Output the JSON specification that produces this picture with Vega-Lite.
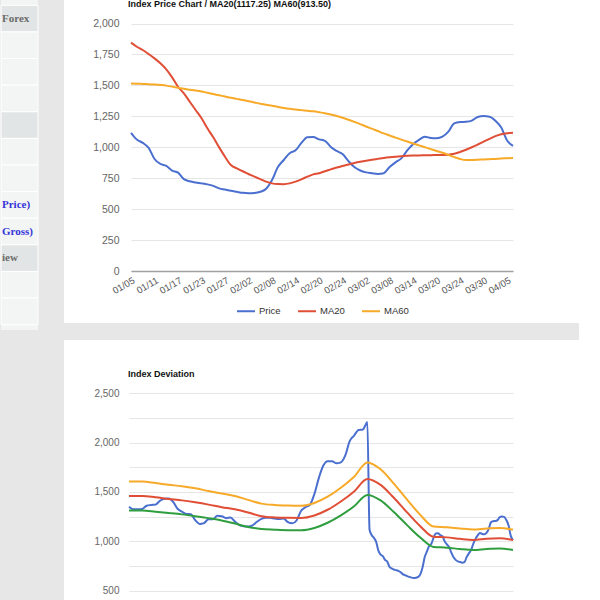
{
  "$schema": "https://vega.github.io/schema/vega-lite/v6.json",
  "background": "#e7e7e7",
  "padding": 0,
  "spacing": 25,
  "config": {"view": {"stroke": null}, "font": "Liberation Sans"},
  "hconcat": [
    {
      "width": 37,
      "height": 330,
      "view": {"fill": "#f3f4f4", "stroke": null},
      "data": {"values": [
        {"row": 0, "label": "Forex", "kind": "head"},
        {"row": 1, "label": "", "kind": "item"},
        {"row": 2, "label": "", "kind": "item"},
        {"row": 3, "label": "", "kind": "item"},
        {"row": 4, "label": "", "kind": "head"},
        {"row": 5, "label": "", "kind": "item"},
        {"row": 6, "label": "", "kind": "item"},
        {"row": 7, "label": "Price)", "kind": "link"},
        {"row": 8, "label": "Gross)", "kind": "link"},
        {"row": 9, "label": "iew", "kind": "head"},
        {"row": 10, "label": "", "kind": "item"},
        {"row": 11, "label": "", "kind": "item"}
      ]},
      "encoding": {"y": {"field": "row", "type": "ordinal", "axis": null, "scale": {"paddingInner": 0, "paddingOuter": 0.2}}},
      "layer": [
        {"mark": {"type": "rect", "stroke": "#ffffff", "strokeWidth": 1},
         "encoding": {"fill": {"field": "kind", "type": "nominal", "scale": {"domain": ["head", "item", "link"], "range": ["#e2e5e5", "#f3f4f4", "#f3f4f4"]}, "legend": null}}},
        {"mark": {"type": "text", "align": "left", "dx": 1, "font": "Liberation Serif", "fontWeight": "bold", "fontSize": 11, "clip": true},
         "encoding": {
           "x": {"datum": 0, "type": "quantitative", "scale": {"domain": [0, 1]}, "axis": null},
           "text": {"field": "label"},
           "color": {"field": "kind", "type": "nominal", "scale": {"domain": ["head", "item", "link"], "range": ["#6b6b6b", "#6b6b6b", "#3434d8"]}, "legend": null}
         }}
      ]
    },
    {
      "spacing": 17,
      "resolve": {"scale": {"color": "independent", "x": "independent", "y": "independent"}, "legend": {"color": "independent"}},
      "vconcat": [
        {
          "width": 515,
          "height": 323,
          "view": {"fill": "#ffffff", "stroke": null},
          "title": {"text": "Index Price Chart / MA20(1117.25) MA60(913.50)", "anchor": "start", "frame": "group", "orient": "top", "offset": -16, "baseline": "alphabetic", "dx": 64, "fontSize": 9, "fontWeight": "bold", "color": "#111111", "font": "Liberation Sans"},
          "data": {"values": [
            {"date": "01/05", "Price": 1117, "MA20": 1845, "MA60": 1515},
            {"date": "01/06", "Price": 1062, "MA20": 1812, "MA60": 1514},
            {"date": "01/09", "Price": 1035, "MA20": 1786, "MA60": 1512},
            {"date": "01/10", "Price": 995, "MA20": 1753, "MA60": 1510},
            {"date": "01/11", "Price": 905, "MA20": 1718, "MA60": 1507},
            {"date": "01/12", "Price": 865, "MA20": 1678, "MA60": 1503},
            {"date": "01/13", "Price": 850, "MA20": 1630, "MA60": 1498},
            {"date": "01/16", "Price": 812, "MA20": 1565, "MA60": 1490},
            {"date": "01/17", "Price": 795, "MA20": 1489, "MA60": 1480},
            {"date": "01/18", "Price": 742, "MA20": 1435, "MA60": 1472},
            {"date": "01/19", "Price": 725, "MA20": 1368, "MA60": 1465},
            {"date": "01/20", "Price": 715, "MA20": 1301, "MA60": 1458},
            {"date": "01/23", "Price": 708, "MA20": 1234, "MA60": 1450},
            {"date": "01/24", "Price": 700, "MA20": 1153, "MA60": 1440},
            {"date": "01/25", "Price": 688, "MA20": 1080, "MA60": 1430},
            {"date": "01/26", "Price": 668, "MA20": 999, "MA60": 1420},
            {"date": "01/27", "Price": 658, "MA20": 923, "MA60": 1410},
            {"date": "01/30", "Price": 648, "MA20": 856, "MA60": 1400},
            {"date": "01/31", "Price": 640, "MA20": 830, "MA60": 1391},
            {"date": "02/01", "Price": 632, "MA20": 806, "MA60": 1382},
            {"date": "02/02", "Price": 628, "MA20": 784, "MA60": 1372},
            {"date": "02/03", "Price": 630, "MA20": 762, "MA60": 1362},
            {"date": "02/06", "Price": 640, "MA20": 743, "MA60": 1352},
            {"date": "02/07", "Price": 665, "MA20": 722, "MA60": 1343},
            {"date": "02/08", "Price": 735, "MA20": 708, "MA60": 1335},
            {"date": "02/09", "Price": 840, "MA20": 703, "MA60": 1326},
            {"date": "02/10", "Price": 897, "MA20": 702, "MA60": 1318},
            {"date": "02/13", "Price": 952, "MA20": 708, "MA60": 1311},
            {"date": "02/14", "Price": 975, "MA20": 722, "MA60": 1305},
            {"date": "02/15", "Price": 1035, "MA20": 741, "MA60": 1300},
            {"date": "02/16", "Price": 1080, "MA20": 762, "MA60": 1295},
            {"date": "02/17", "Price": 1082, "MA20": 781, "MA60": 1290},
            {"date": "02/20", "Price": 1064, "MA20": 790, "MA60": 1283},
            {"date": "02/21", "Price": 1052, "MA20": 806, "MA60": 1275},
            {"date": "02/22", "Price": 1002, "MA20": 821, "MA60": 1264},
            {"date": "02/23", "Price": 970, "MA20": 836, "MA60": 1252},
            {"date": "02/24", "Price": 945, "MA20": 849, "MA60": 1238},
            {"date": "02/27", "Price": 888, "MA20": 861, "MA60": 1222},
            {"date": "02/28", "Price": 840, "MA20": 872, "MA60": 1205},
            {"date": "03/01", "Price": 812, "MA20": 882, "MA60": 1187},
            {"date": "03/02", "Price": 797, "MA20": 891, "MA60": 1168},
            {"date": "03/03", "Price": 790, "MA20": 899, "MA60": 1150},
            {"date": "03/06", "Price": 784, "MA20": 906, "MA60": 1131},
            {"date": "03/07", "Price": 790, "MA20": 913, "MA60": 1112},
            {"date": "03/08", "Price": 840, "MA20": 919, "MA60": 1095},
            {"date": "03/09", "Price": 878, "MA20": 924, "MA60": 1078},
            {"date": "03/10", "Price": 910, "MA20": 928, "MA60": 1062},
            {"date": "03/13", "Price": 975, "MA20": 931, "MA60": 1046},
            {"date": "03/14", "Price": 1025, "MA20": 933, "MA60": 1030},
            {"date": "03/15", "Price": 1060, "MA20": 934, "MA60": 1015},
            {"date": "03/16", "Price": 1085, "MA20": 935, "MA60": 1000},
            {"date": "03/17", "Price": 1075, "MA20": 936, "MA60": 985},
            {"date": "03/20", "Price": 1072, "MA20": 937, "MA60": 970},
            {"date": "03/21", "Price": 1085, "MA20": 938, "MA60": 955},
            {"date": "03/22", "Price": 1126, "MA20": 940, "MA60": 938},
            {"date": "03/23", "Price": 1193, "MA20": 948, "MA60": 920},
            {"date": "03/24", "Price": 1204, "MA20": 962, "MA60": 905},
            {"date": "03/27", "Price": 1206, "MA20": 980, "MA60": 897},
            {"date": "03/28", "Price": 1215, "MA20": 1000, "MA60": 897},
            {"date": "03/29", "Price": 1245, "MA20": 1022, "MA60": 899},
            {"date": "03/30", "Price": 1252, "MA20": 1045, "MA60": 902},
            {"date": "03/31", "Price": 1247, "MA20": 1068, "MA60": 904},
            {"date": "04/03", "Price": 1215, "MA20": 1090, "MA60": 906},
            {"date": "04/04", "Price": 1160, "MA20": 1105, "MA60": 909},
            {"date": "04/05", "Price": 1055, "MA20": 1114, "MA60": 911},
            {"date": "04/06", "Price": 1012, "MA20": 1117.25, "MA60": 913.5}
          ]},
          "transform": [{"fold": ["Price", "MA20", "MA60"], "as": ["series", "value"]}],
          "mark": {"type": "line", "strokeWidth": 2, "interpolate": "monotone"},
          "encoding": {
            "x": {"field": "date", "type": "ordinal", "scale": {"type": "point", "range": [67, 449], "padding": 0},
                  "axis": {"values": ["01/05", "01/11", "01/17", "01/23", "01/27", "02/02", "02/08", "02/14", "02/20", "02/24", "03/02", "03/08", "03/14", "03/20", "03/24", "03/30", "04/05"],
                           "labelAngle": -30, "labelFontSize": 9.5, "labelColor": "#555555", "ticks": false, "tickSize": 0, "domainColor": "#a0a0a0", "domainWidth": 1.5, "offset": -52, "title": null, "labelPadding": 4, "labelOverlap": false, "labelBound": false, "grid": false}},
            "y": {"field": "value", "type": "quantitative", "scale": {"domain": [0, 2000], "range": [271, 23.5]},
                  "axis": {"values": [0, 250, 500, 750, 1000, 1250, 1500, 1750, 2000], "labelExpr": "format(datum.value, ',')", "title": null, "domain": false, "ticks": false, "tickSize": 0, "offset": -57, "labelPadding": 2, "labelFontSize": 10.5, "labelColor": "#666666", "gridColor": "#e6e6e6"}},
            "color": {"field": "series", "type": "nominal", "sort": null,
                      "scale": {"domain": ["Price", "MA20", "MA60"], "range": ["#4a6fcf", "#e04e36", "#f7a928"]},
                      "legend": {"orient": "none", "legendX": 172, "legendY": 301, "direction": "horizontal", "title": null, "symbolType": "stroke", "symbolSize": 324, "symbolStrokeWidth": 2, "labelFontSize": 9.5, "labelColor": "#333333", "columnPadding": 13, "labelOffset": 3, "padding": 0}}
          }
        },
        {
          "width": 515,
          "height": 260,
          "view": {"fill": "#ffffff", "stroke": null},
          "title": {"text": "Index Deviation", "anchor": "start", "frame": "group", "orient": "top", "offset": -45.7, "baseline": "alphabetic", "dx": 64, "fontSize": 9, "fontWeight": "bold", "color": "#111111", "font": "Liberation Sans"},
          "data": {"values": [
            {"t": 0, "s": "Price", "v": 1351}, {"t": 2, "s": "Price", "v": 1324}, {"t": 4, "s": "Price", "v": 1324}, {"t": 6, "s": "Price", "v": 1328},
            {"t": 8, "s": "Price", "v": 1360}, {"t": 10, "s": "Price", "v": 1368}, {"t": 12, "s": "Price", "v": 1372}, {"t": 14, "s": "Price", "v": 1410},
            {"t": 16, "s": "Price", "v": 1432}, {"t": 18, "s": "Price", "v": 1433}, {"t": 20, "s": "Price", "v": 1400}, {"t": 22, "s": "Price", "v": 1330},
            {"t": 24, "s": "Price", "v": 1300}, {"t": 26, "s": "Price", "v": 1278}, {"t": 28, "s": "Price", "v": 1275}, {"t": 30, "s": "Price", "v": 1215},
            {"t": 32, "s": "Price", "v": 1176}, {"t": 34, "s": "Price", "v": 1185}, {"t": 36, "s": "Price", "v": 1223}, {"t": 38, "s": "Price", "v": 1223},
            {"t": 40, "s": "Price", "v": 1258}, {"t": 42, "s": "Price", "v": 1255}, {"t": 44, "s": "Price", "v": 1235}, {"t": 46, "s": "Price", "v": 1242},
            {"t": 48, "s": "Price", "v": 1200}, {"t": 50, "s": "Price", "v": 1165}, {"t": 52, "s": "Price", "v": 1152}, {"t": 54, "s": "Price", "v": 1149},
            {"t": 56, "s": "Price", "v": 1162}, {"t": 58, "s": "Price", "v": 1198}, {"t": 60, "s": "Price", "v": 1228}, {"t": 62, "s": "Price", "v": 1240},
            {"t": 64, "s": "Price", "v": 1240}, {"t": 66, "s": "Price", "v": 1230}, {"t": 68, "s": "Price", "v": 1225}, {"t": 70, "s": "Price", "v": 1230},
            {"t": 72, "s": "Price", "v": 1195}, {"t": 74, "s": "Price", "v": 1182}, {"t": 76, "s": "Price", "v": 1214}, {"t": 78, "s": "Price", "v": 1310},
            {"t": 80, "s": "Price", "v": 1346}, {"t": 82, "s": "Price", "v": 1370}, {"t": 84, "s": "Price", "v": 1480}, {"t": 86, "s": "Price", "v": 1640},
            {"t": 88, "s": "Price", "v": 1765}, {"t": 90, "s": "Price", "v": 1812}, {"t": 92, "s": "Price", "v": 1812}, {"t": 94, "s": "Price", "v": 1790},
            {"t": 96, "s": "Price", "v": 1800}, {"t": 98, "s": "Price", "v": 1870}, {"t": 100, "s": "Price", "v": 2015}, {"t": 102, "s": "Price", "v": 2072},
            {"t": 104, "s": "Price", "v": 2128}, {"t": 106, "s": "Price", "v": 2134}, {"t": 107, "s": "Price", "v": 2170}, {"t": 108, "s": "Price", "v": 2210},
            {"t": 109, "s": "Price", "v": 1117}, {"t": 110, "s": "Price", "v": 1062}, {"t": 111, "s": "Price", "v": 1035}, {"t": 112, "s": "Price", "v": 995},
            {"t": 113, "s": "Price", "v": 905}, {"t": 114, "s": "Price", "v": 865}, {"t": 115, "s": "Price", "v": 850}, {"t": 116, "s": "Price", "v": 812},
            {"t": 117, "s": "Price", "v": 795}, {"t": 118, "s": "Price", "v": 742}, {"t": 119, "s": "Price", "v": 725}, {"t": 120, "s": "Price", "v": 715},
            {"t": 121, "s": "Price", "v": 708}, {"t": 122, "s": "Price", "v": 700}, {"t": 123, "s": "Price", "v": 688}, {"t": 124, "s": "Price", "v": 668},
            {"t": 125, "s": "Price", "v": 658}, {"t": 126, "s": "Price", "v": 648}, {"t": 127, "s": "Price", "v": 640}, {"t": 128, "s": "Price", "v": 632},
            {"t": 129, "s": "Price", "v": 628}, {"t": 130, "s": "Price", "v": 630}, {"t": 131, "s": "Price", "v": 640}, {"t": 132, "s": "Price", "v": 665},
            {"t": 133, "s": "Price", "v": 735}, {"t": 134, "s": "Price", "v": 840}, {"t": 135, "s": "Price", "v": 897}, {"t": 136, "s": "Price", "v": 952},
            {"t": 137, "s": "Price", "v": 975}, {"t": 138, "s": "Price", "v": 1035}, {"t": 139, "s": "Price", "v": 1080}, {"t": 140, "s": "Price", "v": 1082},
            {"t": 141, "s": "Price", "v": 1064}, {"t": 142, "s": "Price", "v": 1052}, {"t": 143, "s": "Price", "v": 1002}, {"t": 144, "s": "Price", "v": 970},
            {"t": 145, "s": "Price", "v": 945}, {"t": 146, "s": "Price", "v": 888}, {"t": 147, "s": "Price", "v": 840}, {"t": 148, "s": "Price", "v": 812},
            {"t": 149, "s": "Price", "v": 797}, {"t": 150, "s": "Price", "v": 790}, {"t": 151, "s": "Price", "v": 784}, {"t": 152, "s": "Price", "v": 790},
            {"t": 153, "s": "Price", "v": 840}, {"t": 154, "s": "Price", "v": 878}, {"t": 155, "s": "Price", "v": 910}, {"t": 156, "s": "Price", "v": 975},
            {"t": 157, "s": "Price", "v": 1025}, {"t": 158, "s": "Price", "v": 1060}, {"t": 159, "s": "Price", "v": 1085}, {"t": 160, "s": "Price", "v": 1075},
            {"t": 161, "s": "Price", "v": 1072}, {"t": 162, "s": "Price", "v": 1085}, {"t": 163, "s": "Price", "v": 1126}, {"t": 164, "s": "Price", "v": 1193},
            {"t": 165, "s": "Price", "v": 1204}, {"t": 166, "s": "Price", "v": 1206}, {"t": 167, "s": "Price", "v": 1215}, {"t": 168, "s": "Price", "v": 1245},
            {"t": 169, "s": "Price", "v": 1252}, {"t": 170, "s": "Price", "v": 1247}, {"t": 171, "s": "Price", "v": 1215}, {"t": 172, "s": "Price", "v": 1160},
            {"t": 173, "s": "Price", "v": 1055}, {"t": 174, "s": "Price", "v": 1012},

            {"t": 0, "s": "MA", "v": 1460}, {"t": 6, "s": "MA", "v": 1460}, {"t": 12, "s": "MA", "v": 1447}, {"t": 18, "s": "MA", "v": 1430},
            {"t": 24, "s": "MA", "v": 1415}, {"t": 30, "s": "MA", "v": 1395}, {"t": 36, "s": "MA", "v": 1372}, {"t": 42, "s": "MA", "v": 1346},
            {"t": 48, "s": "MA", "v": 1325}, {"t": 54, "s": "MA", "v": 1292}, {"t": 60, "s": "MA", "v": 1255}, {"t": 66, "s": "MA", "v": 1242},
            {"t": 72, "s": "MA", "v": 1238}, {"t": 78, "s": "MA", "v": 1237}, {"t": 84, "s": "MA", "v": 1262}, {"t": 90, "s": "MA", "v": 1320},
            {"t": 96, "s": "MA", "v": 1404}, {"t": 102, "s": "MA", "v": 1506}, {"t": 108, "s": "MA", "v": 1632}, {"t": 114, "s": "MA", "v": 1572},
            {"t": 120, "s": "MA", "v": 1441}, {"t": 126, "s": "MA", "v": 1293}, {"t": 132, "s": "MA", "v": 1153}, {"t": 138, "s": "MA", "v": 1046},
            {"t": 144, "s": "MA", "v": 1040}, {"t": 150, "s": "MA", "v": 1025}, {"t": 156, "s": "MA", "v": 1014}, {"t": 162, "s": "MA", "v": 1025},
            {"t": 168, "s": "MA", "v": 1030}, {"t": 174, "s": "MA", "v": 1014},

            {"t": 0, "s": "Upper", "v": 1605}, {"t": 6, "s": "Upper", "v": 1605}, {"t": 12, "s": "Upper", "v": 1590}, {"t": 18, "s": "Upper", "v": 1573},
            {"t": 24, "s": "Upper", "v": 1558}, {"t": 30, "s": "Upper", "v": 1537}, {"t": 36, "s": "Upper", "v": 1510}, {"t": 42, "s": "Upper", "v": 1485},
            {"t": 48, "s": "Upper", "v": 1460}, {"t": 54, "s": "Upper", "v": 1420}, {"t": 60, "s": "Upper", "v": 1382}, {"t": 66, "s": "Upper", "v": 1368},
            {"t": 72, "s": "Upper", "v": 1362}, {"t": 78, "s": "Upper", "v": 1360}, {"t": 84, "s": "Upper", "v": 1388}, {"t": 90, "s": "Upper", "v": 1452},
            {"t": 96, "s": "Upper", "v": 1543}, {"t": 102, "s": "Upper", "v": 1655}, {"t": 108, "s": "Upper", "v": 1800}, {"t": 114, "s": "Upper", "v": 1730},
            {"t": 120, "s": "Upper", "v": 1585}, {"t": 126, "s": "Upper", "v": 1422}, {"t": 132, "s": "Upper", "v": 1268}, {"t": 138, "s": "Upper", "v": 1150},
            {"t": 144, "s": "Upper", "v": 1143}, {"t": 150, "s": "Upper", "v": 1130}, {"t": 156, "s": "Upper", "v": 1120}, {"t": 162, "s": "Upper", "v": 1130},
            {"t": 168, "s": "Upper", "v": 1135}, {"t": 174, "s": "Upper", "v": 1118},

            {"t": 0, "s": "Lower", "v": 1312}, {"t": 6, "s": "Lower", "v": 1312}, {"t": 12, "s": "Lower", "v": 1300}, {"t": 18, "s": "Lower", "v": 1287},
            {"t": 24, "s": "Lower", "v": 1273}, {"t": 30, "s": "Lower", "v": 1255}, {"t": 36, "s": "Lower", "v": 1235}, {"t": 42, "s": "Lower", "v": 1212},
            {"t": 48, "s": "Lower", "v": 1180}, {"t": 54, "s": "Lower", "v": 1145}, {"t": 60, "s": "Lower", "v": 1125}, {"t": 66, "s": "Lower", "v": 1118},
            {"t": 72, "s": "Lower", "v": 1113}, {"t": 78, "s": "Lower", "v": 1112}, {"t": 84, "s": "Lower", "v": 1135}, {"t": 90, "s": "Lower", "v": 1188},
            {"t": 96, "s": "Lower", "v": 1263}, {"t": 102, "s": "Lower", "v": 1355}, {"t": 108, "s": "Lower", "v": 1470}, {"t": 114, "s": "Lower", "v": 1415},
            {"t": 120, "s": "Lower", "v": 1297}, {"t": 126, "s": "Lower", "v": 1164}, {"t": 132, "s": "Lower", "v": 1038}, {"t": 138, "s": "Lower", "v": 943},
            {"t": 144, "s": "Lower", "v": 936}, {"t": 150, "s": "Lower", "v": 922}, {"t": 156, "s": "Lower", "v": 912}, {"t": 162, "s": "Lower", "v": 922},
            {"t": 168, "s": "Lower", "v": 927}, {"t": 174, "s": "Lower", "v": 912}
          ]},
          "mark": {"type": "line", "strokeWidth": 2, "interpolate": "monotone"},
          "encoding": {
            "x": {"field": "t", "type": "quantitative", "scale": {"domain": [0, 174], "range": [65, 449]}, "axis": null},
            "y": {"field": "v", "type": "quantitative", "scale": {"domain": [0, 2500], "range": [300, 53.3]},
                  "axis": {"values": [500, 750, 1000, 1250, 1500, 1750, 2000, 2250, 2500], "labelExpr": "datum.value % 500 === 0 ? format(datum.value, ',') : ''", "title": null, "domain": false, "ticks": false, "tickSize": 0, "offset": -57, "labelPadding": 2, "labelFontSize": 10, "labelColor": "#666666", "gridColor": "#e6e6e6"}},
            "color": {"field": "s", "type": "nominal", "scale": {"domain": ["Price", "MA", "Upper", "Lower"], "range": ["#4a6fcf", "#e04e36", "#f7a928", "#2f9e3f"]}, "legend": null}
          }
        }
      ]
    }
  ]
}
